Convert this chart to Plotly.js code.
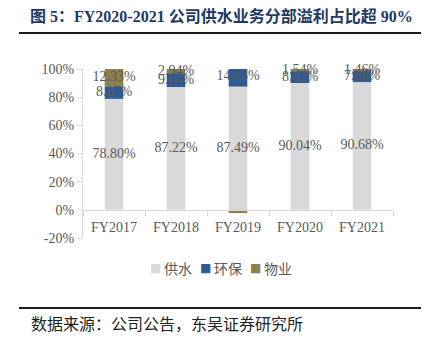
<!DOCTYPE html>
<html>
<head>
<meta charset="utf-8">
<script src="https://cdn.plot.ly/plotly-3.0.1.min.js"></script>
<style>html,body{margin:0;padding:0;background:#fff;}#chart{width:431px;height:342px;}</style>
</head>
<body>
<div id="chart"></div>
<script>
const categories = ['FY2017','FY2018','FY2019','FY2020','FY2021'];
const seriesNames = ['供水','环保','物业'];
const water = [78.80, 87.22, 87.49, 90.04, 90.68];
const env = [8.87, 9.84, 14.83, 8.42, 7.86];
const property = [12.33, 2.94, -2.32, 1.54, 1.46];
const yTickVals = [-20, 0, 20, 40, 60, 80, 100];
const yTickText = ['-20%','0%','20%','40%','60%','80%','100%'];
const colors = ['#D9D9D9', '#2E5C94', '#8E7F4B'];

const serif = '"Times New Roman", "Liberation Serif", "Noto Sans CJK SC", serif';
const labelFont = {family: serif, size: 14, color: '#595959'};
const fmt = v => v > 0 ? v.toFixed(2) + '%' : '';

const series = [water, env, property];
const data = [];
series.forEach((vals, i) => {
  data.push({
    type: 'bar', name: seriesNames[i], x: categories, y: vals,
    marker: {color: colors[i], line: {width: 0}},
    cliponaxis: false, hoverinfo: 'skip', showlegend: false
  });
});
// data labels, centred in each positive stacked segment
const posBase = categories.map(() => 0);
series.forEach((vals, i) => {
  const ys = [], txt = [];
  vals.forEach((v, j) => {
    if (v > 0) { ys.push(posBase[j] + v / 2); posBase[j] += v; txt.push(fmt(v)); }
    else { ys.push(null); txt.push(''); }
  });
  data.push({
    type: 'scatter', mode: 'text', x: categories, y: ys, text: txt,
    textposition: 'middle center', textfont: labelFont,
    cliponaxis: false, showlegend: false, hoverinfo: 'skip'
  });
});

// legend entries (drawn as annotations to match the compact legend)
const legendAnn = [];
const legY = (238 - 268) / 169;
const legStart = [155, 205, 255];
seriesNames.forEach((n, i) => {
  legendAnn.push({text: '■', xref: 'paper', yref: 'paper', x: (legStart[i] - 83) / 310, xanchor: 'center',
    y: legY, yanchor: 'middle', showarrow: false,
    font: {family: '"DejaVu Sans", sans-serif', size: 12, color: colors[i]}});
  legendAnn.push({text: n, xref: 'paper', yref: 'paper', x: (legStart[i] + 7 - 83) / 310, xanchor: 'left',
    y: legY, yanchor: 'middle', showarrow: false,
    font: {family: '"Noto Sans CJK SC", sans-serif', size: 14, color: '#595959'}});
});

const layout = {
  width: 431, height: 342,
  margin: {l: 83, r: 38, t: 69, b: 104},
  paper_bgcolor: '#fff', plot_bgcolor: '#fff',
  barmode: 'relative', bargap: 0.7,
  showlegend: false,
  font: {family: serif, size: 14, color: '#595959'},
  title: {
    text: '图 5：FY2020-2021 公司供水业务分部溢利占比超 90%',
    font: {family: serif, size: 16, color: '#1F3864', weight: 'bold'},
    x: 30/431, xanchor: 'left', xref: 'container',
    y: 1 - 16/342, yanchor: 'middle', yref: 'container'
  },
  xaxis: {
    type: 'category', anchor: 'free', position: 20/120,
    showline: true, linecolor: '#D9D9D9', linewidth: 1,
    ticks: 'outside', tickson: 'boundaries', ticklen: 5, tickcolor: '#D9D9D9',
    ticklabelstandoff: 4,
    showgrid: false, zeroline: false,
    tickfont: {family: serif, size: 14, color: '#595959'}
  },
  yaxis: {
    range: [-20, 100], tickvals: yTickVals, ticktext: yTickText,
    showline: true, linecolor: '#D9D9D9', linewidth: 1,
    ticks: 'outside', ticklen: 5, tickcolor: '#D9D9D9',
    showgrid: false, zeroline: false,
    tickfont: {family: serif, size: 14, color: '#595959'}
  },
  shapes: [
    {type: 'line', xref: 'paper', yref: 'paper', x0: (19-83)/310, x1: (421-83)/310,
     y0: (238-33)/169, y1: (238-33)/169, line: {color: '#1a1a1a', width: 2}},
    {type: 'line', xref: 'paper', yref: 'paper', x0: (19-83)/310, x1: (421-83)/310,
     y0: (238-308)/169, y1: (238-308)/169, line: {color: '#1a1a1a', width: 2}}
  ],
  annotations: legendAnn.concat([
    {text: '数据来源：公司公告，东吴证券研究所', xref: 'paper', yref: 'paper',
     x: (29-83)/310, xanchor: 'left', y: (238-323)/169, yanchor: 'middle',
     showarrow: false, font: {family: '"Noto Sans CJK SC", serif', size: 16, color: '#222'}}
  ])
};

Plotly.newPlot('chart', data, layout, {displayModeBar: false, staticPlot: true});
</script>
</body>
</html>
